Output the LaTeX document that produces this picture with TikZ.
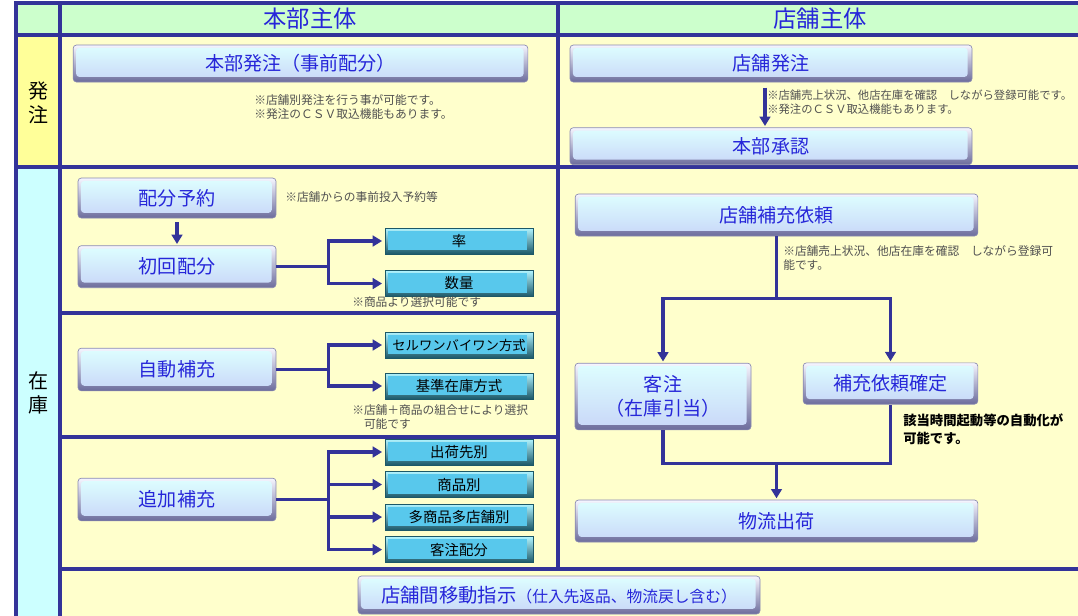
\documentclass[tikz,border=0pt]{standalone}
\usepackage{fontspec}
\setmainfont{Noto Sans CJK JP}
\usepackage{tikz}
\usepackage{xcolor}
\usetikzlibrary{arrows.meta,calc,positioning}
\definecolor{gridblue}{HTML}{333399}
\definecolor{headgreen}{HTML}{CCFFCC}
\definecolor{ordyellow}{HTML}{FFFF99}
\definecolor{stockcyan}{HTML}{CCFFFF}
\definecolor{cellcream}{HTML}{FFFFCC}
\definecolor{btntext}{HTML}{2626D9}
\definecolor{btnlight}{HTML}{F6F6FF}
\definecolor{btndark}{HTML}{6C6C9C}
\definecolor{facetop}{HTML}{DEFFFF}
\definecolor{facebot}{HTML}{C8D6F8}
\definecolor{opttop}{HTML}{B0F4FF}
\definecolor{optdark}{HTML}{1C5868}
\definecolor{optface}{HTML}{58C8EC}
\definecolor{notegray}{HTML}{505050}
\tikzset{%
  rule/.style={line width=2.6pt,draw=gridblue},
  link/.style={line width=2.4pt,draw=gridblue},
  arrow/.style={line width=2.4pt,draw=gridblue,-{Triangle[length=7pt,width=8pt]},shorten >=1pt},
  head/.style={text=btntext,font=\fontsize{17.5}{20}\selectfont},
  side/.style={font=\fontsize{15}{18}\selectfont,align=center},
  note/.style={text=notegray,font=\fontsize{8.8}{10.8}\selectfont,align=left,inner sep=0pt,anchor=north west},
  button/.style={rectangle,rounded corners=2.5pt,draw=btndark!80,line width=0.5pt,
    top color=btnlight,bottom color=btndark,text=btntext,align=center,inner sep=0pt,
    font=\fontsize{14.3}{17.5}\selectfont,
    path picture={\shade[top color=facetop,bottom color=facebot]
      ([shift={(2.2pt,-2.2pt)}]path picture bounding box.north west) rectangle
      ([shift={(-3.2pt,3.8pt)}]path picture bounding box.south east);}},
  choice/.style={rectangle,draw=optdark,line width=0.4pt,top color=opttop,bottom color=optdark,
    text=black,font=\fontsize{10.8}{12}\selectfont,minimum width=111pt,minimum height=19.5pt,inner sep=0pt,
    path picture={\fill[optface]
      ([shift={(2pt,-2pt)}]path picture bounding box.north west) rectangle
      ([shift={(-4.5pt,3pt)}]path picture bounding box.south east);}},
}

\begin{document}
\begin{tikzpicture}[x=0.75pt,y=-0.75pt]
  \useasboundingbox (0,0) rectangle (1078,615);

  \fill[headgreen] (16,3) rectangle (1085,35);
  \fill[ordyellow] (16,35) rectangle (60,167);
  \fill[stockcyan] (16,167) rectangle (60,620);
  \fill[cellcream] (60,35) rectangle (1085,620);
  \draw[rule] (1085,3) -- (16,3) -- (16,620);
  \draw[rule] (16,35) -- (1085,35);
  \draw[rule] (16,167) -- (1085,167);
  \draw[rule] (60,3) -- (60,620);
  \draw[rule] (558,3) -- (558,569);
  \draw[rule] (60,313) -- (558,313);
  \draw[rule] (60,437) -- (558,437);
  \draw[rule,line width=3.6pt] (60,569) -- (1085,569);

  \node[head] (hqhead) at (310,19) {本部主体};
  \node[head] (storehead) at (820,19) {店舗主体};
  \node[side] (ordside) at (38,103) {発\\注};
  \node[side] (stockside) at (38,393) {在\\庫};

  \node[button,minimum width=341pt,minimum height=27.75pt] (hqorder) at (300.5,63.5) {本部発注（事前配分）};
  \node[note] (hqnote) at (254,94) {※店舗別発注を行う事が可能です。\\※発注のＣＳＶ取込機能もあります。};
  \node[button,minimum width=301.5pt,minimum height=27.75pt] (storeorder) at (771,63.5) {店舗発注};
  \node[button,minimum width=301.5pt,minimum height=27.75pt,below=33.75pt of storeorder] (approve) {本部承認};
  \node[note,font=\fontsize{8.5}{10.5}\selectfont] (storenote) at (767,90) {※店舗売上状況、他店在庫を確認　しながら登録可能です。\\※発注のＣＳＶ取込機能もあります。};
  \draw[arrow,shorten <=4pt] ([xshift=-4.5pt]storeorder.south) -- ([xshift=-4.5pt]approve.north);

  \node[button,minimum width=148.5pt,minimum height=30pt] (reserve) at (177,198) {配分予約};
  \node[note] (reservenote) at (285,191) {※店舗からの事前投入予約等};
  \node[button,minimum width=148.5pt,minimum height=31.5pt,below=20.25pt of reserve] (initial) {初回配分};
  \node[choice] (rate) at (459,241) {率};
  \node[choice,below=12pt of rate] (qty) {数量};
  \node[note] (qtynote) at (352,296) {※商品より選択可能です};
  \draw[arrow,shorten <=3pt] (reserve) -- (initial);
  \draw[arrow,shorten >=2pt] (initial.east) -- ++(52,0) |- (rate.west);
  \draw[arrow,shorten >=2pt] (initial.east) -- ++(52,0) |- (qty.west);

  \node[button,minimum width=148.5pt,minimum height=32pt] (autofill) at (177,369.5) {自動補充};
  \node[choice,font=\fontsize{10}{12}\selectfont] (onebyone) at (459,345) {セルワンバイワン方式};
  \node[choice] (basestock) at (459,386) {基準在庫方式};
  \node[note] (autonote) at (352,404) {※店舗＋商品の組合せにより選択\\　可能です};
  \draw[arrow,shorten >=2pt] (autofill.east) -- ++(52,0) |- (onebyone.west);
  \draw[arrow,shorten >=2pt] (autofill.east) -- ++(52,0) |- (basestock.west);

  \node[button,minimum width=148.5pt,minimum height=32pt] (extrafill) at (177,499.5) {追加補充};
  \node[choice] (bydest) at (459,452) {出荷先別};
  \node[choice,below=4.5pt of bydest] (byitem) {商品別};
  \node[choice,below=4.5pt of byitem] (bymulti) {多商品多店舗別};
  \node[choice,below=4.5pt of bymulti] (bycust) {客注配分};
  \foreach \target in {bydest,byitem,bymulti,bycust}
    \draw[arrow,shorten >=2pt] (extrafill.east) -- ++(52,0) |- (\target.west);

  \node[button,minimum width=302pt,minimum height=31.5pt] (request) at (776.5,215) {店舗補充依頼};
  \node[note] (requestnote) at (783,245) {※店舗売上状況、他店在庫を確認　しながら登録可\\能です。};
  \node[button,minimum width=132pt,minimum height=50pt] (custorder) at (663,396.5) {客注\\（在庫引当）};
  \node[button,minimum width=131pt,minimum height=31pt] (confirm) at (890.5,383.5) {補充依頼確定};
  \node[note,text=black,font=\bfseries\fontsize{10}{13.5}\selectfont] (autonote2) at (903,414) {該当時間起動等の自動化が\\可能です。};
  \node[button,minimum width=302pt,minimum height=31.5pt] (shipping) at (776.5,521) {物流出荷};
  \path (request.south) ++(0,62) coordinate (split);
  \path (shipping.north) ++(0,-36) coordinate (merge);
  \draw[link] (request.south) -- (split);
  \draw[arrow] (split) -| (custorder.north);
  \draw[arrow] (split) -| (confirm.north);
  \draw[link] (custorder.south) |- (merge) -| (confirm.south);
  \draw[arrow] (merge) -- (shipping.north);

  \node[button,minimum width=301.5pt,minimum height=28.5pt,font=\fontsize{14.5}{17}\selectfont] (transfer) at (559,595) {店舗間移動指示{\fontsize{11.8}{13}\selectfont（仕入先返品、物流戻し含む）}};
\end{tikzpicture}
\end{document}
